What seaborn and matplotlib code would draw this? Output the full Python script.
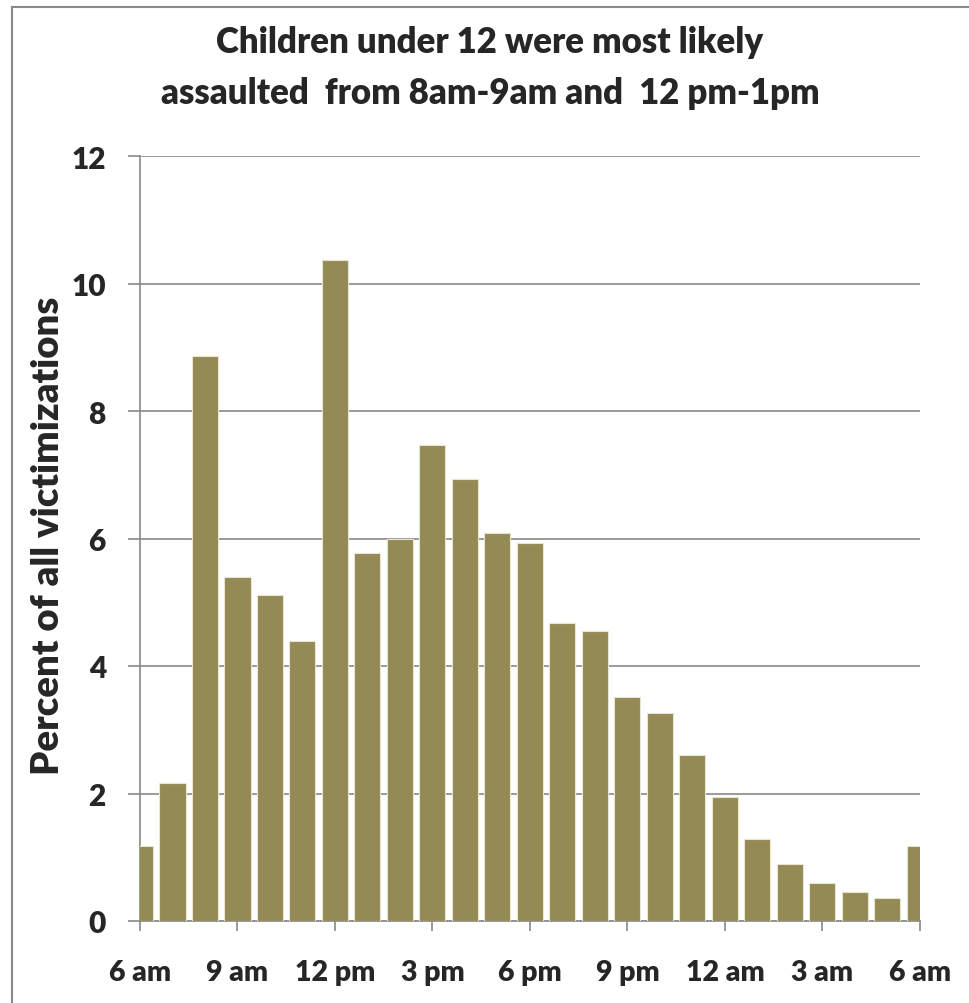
import matplotlib
matplotlib.use("Agg")
import matplotlib.pyplot as plt
import seaborn as sns
import pandas as pd
from matplotlib.patches import Rectangle

# Hour of the day (6 = 6 am, 30 = 6 am next day) and share of victimizations
hours = list(range(6, 31))
percent = [1.17, 2.17, 8.87, 5.39, 5.11, 4.39, 10.37, 5.77, 6.00, 7.46,
           6.93, 6.08, 5.93, 4.68, 4.55, 3.52, 3.26, 2.61, 1.95, 1.29,
           0.89, 0.60, 0.45, 0.36, 1.17]
tick_hours = [6, 9, 12, 15, 18, 21, 24, 27, 30]
tick_labels = ["6 am", "9 am", "12 pm", "3 pm", "6 pm", "9 pm", "12 am", "3 am", "6 am"]
y_ticks = [0, 2, 4, 6, 8, 10, 12]

title = "Children under 12 were most likely\nassaulted  from 8am-9am and  12 pm-1pm"
y_label = "Percent of all victimizations"

sns.set_theme(style="white")
plt.rcParams["font.family"] = ["Lato", "DejaVu Sans"]

W, H = 969, 1004
fig = plt.figure(figsize=(W / 100, H / 100), dpi=100)
ax = fig.add_axes([140 / W, 1 - 922 / H, 780 / W, (922 - 157) / H])

grey = "#898989"
bar_color = "#948A54"
weight = "heavy"

df = pd.DataFrame({"hour": hours, "percent": percent})
sns.barplot(data=df, x="hour", y="percent", native_scale=True, width=0.8,
            color=bar_color, saturation=1, edgecolor="#E9E5D3", linewidth=0.8,
            ax=ax, zorder=3)

ax.set_xlim(6, 30)
ax.set_ylim(0, 12)
ax.set_axisbelow(True)
ax.yaxis.grid(True, color=grey, linewidth=1.2)
ax.xaxis.grid(False)

ax.set_xticks(tick_hours)
ax.set_xticklabels(tick_labels, fontsize=20.5, fontweight=weight)
ax.set_yticks(y_ticks)
ax.set_yticklabels([str(v) for v in y_ticks], fontsize=21.5, fontweight=weight)
ax.tick_params(axis="x", bottom=True, length=7.2, width=1.2, color=grey,
               direction="out", pad=20)
ax.tick_params(axis="y", left=True, length=8.6, width=1.2, color=grey,
               direction="out", pad=16)

for side in ("top", "right"):
    ax.spines[side].set_visible(False)
for side in ("left", "bottom"):
    ax.spines[side].set_color(grey)
    ax.spines[side].set_linewidth(1.2)

ax.set_xlabel("")
ax.set_ylabel(y_label, fontsize=27.5, fontweight=weight)
ax.yaxis.set_label_coords((65 - 140) / 780, 0.505)

fig.text(490 / W, 1 - 26 / H, title, ha="center", va="top", fontsize=25,
         fontweight=weight, linespacing=1.65)

# Chart-area border
fig.add_artist(Rectangle((12 / W, -0.1), 1.2, (1 - 8 / H) + 0.1,
                         transform=fig.transFigure, fill=False,
                         edgecolor=grey, linewidth=1.5))

fig.savefig("out.png", dpi=100, facecolor="white")
